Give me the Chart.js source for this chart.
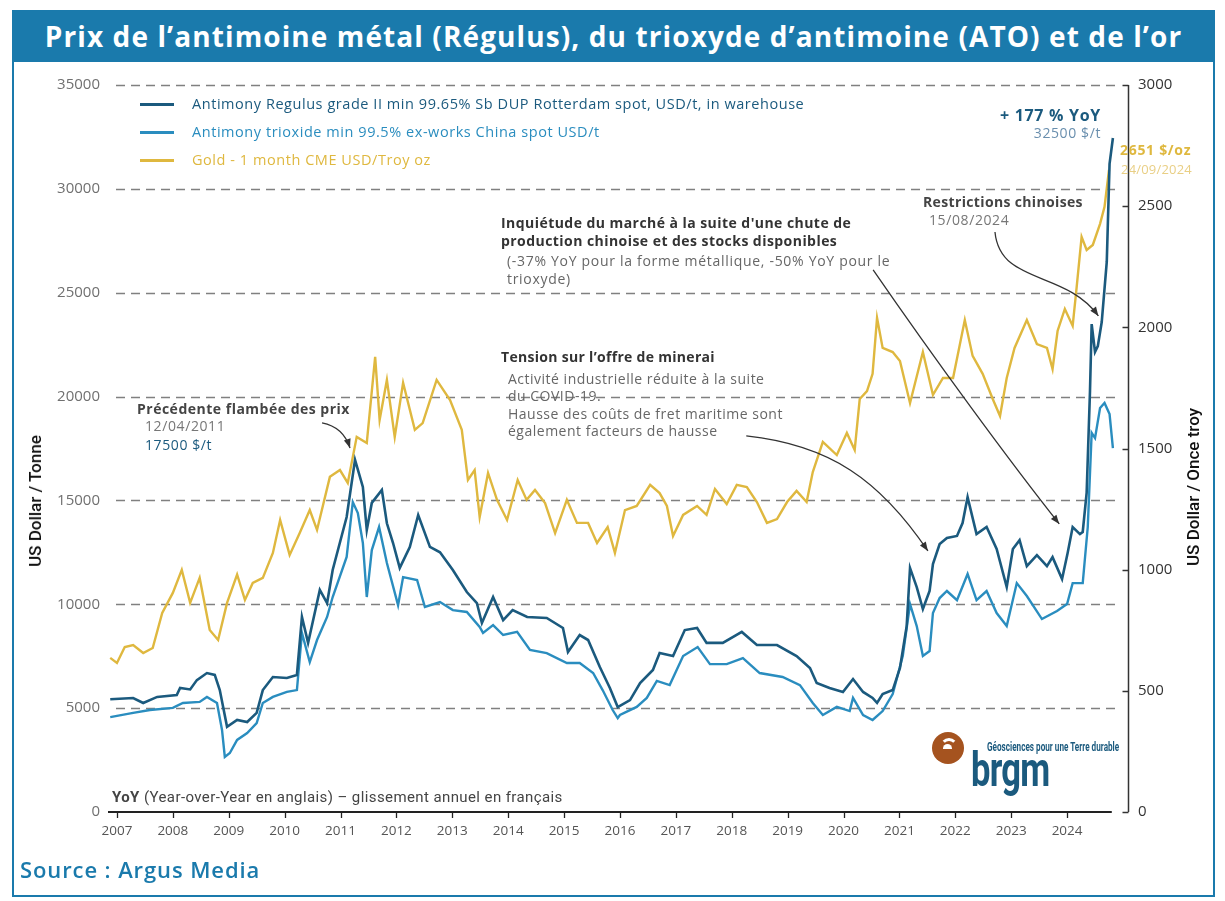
<!DOCTYPE html>
<html><head><meta charset="utf-8">
<script src="https://cdn.jsdelivr.net/npm/chart.js@4.4.1/dist/chart.umd.min.js"></script>
<style>
html,body{margin:0;padding:0;background:#fff;}
body{width:1225px;height:901px;position:relative;overflow:hidden;font-family:"Open Sans",sans-serif;}
#frame{position:absolute;left:12px;top:10px;width:1203px;height:887px;border:2px solid #1a7aac;box-sizing:border-box;}
#titlebar{position:absolute;left:12px;top:10px;width:1203px;height:52px;background:#1a7aac;color:#fff;font-weight:700;font-size:28px;display:flex;align-items:center;justify-content:center;letter-spacing:1.1px;}
#c{position:absolute;left:0;top:0;}
.t{position:absolute;white-space:nowrap;line-height:1;transform:translateY(-50%);letter-spacing:0.6px;}
.r{transform:translate(-100%,-50%);}
.b{font-weight:700;letter-spacing:0.4px;}
.leg{position:absolute;width:34px;height:3px;}
.vt{position:absolute;white-space:nowrap;transform:translate(-50%,-50%) rotate(-90deg);font-family:Roboto,sans-serif;font-weight:500;font-size:17px;color:#111;}
</style></head>
<body>
<div id="frame"></div>
<div id="titlebar">Prix de l’antimoine métal (Régulus), du trioxyde d’antimoine (ATO) et de l’or</div>
<canvas id="c" width="1225" height="901"></canvas>

<div class="leg" style="left:140px;top:103px;background:#1b5a7e"></div>
<div class="leg" style="left:140px;top:131px;background:#2a8dbf"></div>
<div class="leg" style="left:140px;top:159px;background:#dfb83f"></div>
<div class="t" style="left:192px;top:104px;font-size:14.5px;color:#1b5a7e;letter-spacing:0.55px">Antimony Regulus grade II min 99.65% Sb DUP Rotterdam spot, USD/t, in warehouse</div>
<div class="t" style="left:192px;top:132px;font-size:14.5px;color:#2a8dbf;letter-spacing:0.55px">Antimony trioxide min 99.5% ex-works China spot USD/t</div>
<div class="t" style="left:192px;top:160px;font-size:14.5px;color:#dfb83f;letter-spacing:0.55px">Gold - 1 month CME USD/Troy oz</div>

<div class="t r b" style="left:1101px;top:115px;font-size:16px;color:#1b5a7e;letter-spacing:0.7px">+ 177 % YoY</div>
<div class="t r" style="left:1101px;top:133px;font-size:14px;color:#6a8fae">32500 $/t</div>
<div class="t b" style="left:1120px;top:150px;font-size:14px;color:#dfb83f;letter-spacing:0.7px">2651 $/oz</div>
<div class="t" style="left:1121px;top:169px;font-size:13px;color:#e9cf85;letter-spacing:0.2px">24/09/2024</div>

<div class="t b" style="left:923px;top:202px;font-size:14px;color:#444;letter-spacing:0.35px">Restrictions chinoises</div>
<div class="t" style="left:929px;top:220px;font-size:14px;color:#777">15/08/2024</div>

<div class="t b" style="left:501px;top:223px;font-size:14px;color:#333;letter-spacing:0.45px">Inquiétude du marché à la suite d'une chute de</div>
<div class="t b" style="left:501px;top:241px;font-size:14px;color:#333;letter-spacing:0.45px">production chinoise et des stocks disponibles</div>
<div class="t" style="left:507px;top:261px;font-size:14px;color:#666;letter-spacing:0.7px">(-37% YoY pour la forme métallique, -50% YoY pour le</div>
<div class="t" style="left:507px;top:279px;font-size:14px;color:#666;letter-spacing:0.7px">trioxyde)</div>

<div class="t b" style="left:501px;top:357px;font-size:14px;color:#333;letter-spacing:0.3px">Tension sur l’offre de minerai</div>
<div class="t" style="left:508px;top:379px;font-size:14px;color:#666;letter-spacing:0.5px">Activité industrielle réduite à la suite</div>
<div class="t" style="left:508px;top:396px;font-size:14px;color:#666;letter-spacing:0.5px">du COVID-19.</div>
<div class="t" style="left:508px;top:414px;font-size:14px;color:#666;letter-spacing:0.5px">Hausse des coûts de fret maritime sont</div>
<div class="t" style="left:508px;top:431px;font-size:14px;color:#666;letter-spacing:0.5px">également facteurs de hausse</div>

<div class="t b" style="left:137px;top:409px;font-size:14px;color:#444;letter-spacing:0.5px">Précédente flambée des prix</div>
<div class="t" style="left:145px;top:426px;font-size:14px;color:#777">12/04/2011</div>
<div class="t" style="left:145px;top:445px;font-size:14px;color:#1b5a7e">17500 $/t</div>

<div class="t" style="left:112px;top:797px;font-size:15px;color:#444;font-family:Roboto,sans-serif;letter-spacing:0.4px"><b>YoY</b> (Year-over-Year en anglais) – glissement annuel en français</div>

<div class="vt" style="left:35px;top:501px">US Dollar / Tonne</div>
<div class="vt" style="left:1193px;top:487px">US Dollar / Once troy</div>

<div class="t" style="left:20px;top:869px;font-size:22px;color:#1a7aac;font-weight:600;letter-spacing:0.9px">Source : Argus Media</div>

<div style="position:absolute;left:932px;top:732px;width:32px;height:32px;border-radius:50%;background:#a5531f"></div>
<div style="position:absolute;left:940px;top:738px;width:12px;height:12px;border-radius:50%;border:3px solid #fff;border-bottom-color:transparent;border-left-color:transparent;border-right-color:transparent;"></div>
<div style="position:absolute;left:943px;top:744px;width:9px;height:5px;border-radius:5px 5px 0 0;background:#fff"></div>
<div class="t" style="left:987px;top:747px;font-size:12px;color:#1b5a7e;font-family:Roboto,sans-serif;font-weight:700;letter-spacing:0;transform:translateY(-50%) scaleX(0.68);transform-origin:left center">Géosciences pour une Terre durable</div>
<div class="t" style="left:971px;top:770px;font-size:48px;color:#1b5a7e;font-family:Roboto,sans-serif;font-weight:700;transform:translateY(-50%) scaleX(0.72);transform-origin:left center;letter-spacing:-1px">brgm</div>

<script>
// ---- Data ----
const yearTicks = [2007,2008,2009,2010,2011,2012,2013,2014,2015,2016,2017,2018,2019,2020,2021,2022,2023,2024];

const regulusYears = [2006.88,2007.29,2007.47,2007.72,2008.07,2008.13,2008.31,2008.43,2008.61,2008.75,2008.84,2008.97,2009.15,2009.33,2009.50,2009.61,2009.79,2010.04,2010.22,2010.31,2010.42,2010.63,2010.76,2010.86,2011.11,2011.26,2011.40,2011.47,2011.56,2011.74,2011.83,2011.94,2012.06,2012.24,2012.39,2012.60,2012.78,2013.01,2013.26,2013.44,2013.53,2013.73,2013.91,2014.08,2014.34,2014.69,2014.98,2015.07,2015.28,2015.43,2015.64,2015.82,2015.96,2016.18,2016.36,2016.59,2016.71,2016.95,2017.16,2017.38,2017.55,2017.84,2018.18,2018.45,2018.81,2019.16,2019.40,2019.52,2019.75,2019.99,2020.17,2020.35,2020.52,2020.60,2020.70,2020.88,2021.01,2021.13,2021.19,2021.31,2021.42,2021.54,2021.60,2021.72,2021.85,2022.03,2022.13,2022.22,2022.38,2022.56,2022.74,2022.92,2023.03,2023.15,2023.28,2023.46,2023.64,2023.74,2023.91,2024.01,2024.10,2024.23,2024.28,2024.35,2024.41,2024.44,2024.50,2024.55,2024.62,2024.71,2024.76,2024.82];
const regulusPrices = [5430,5490,5250,5540,5630,5970,5900,6350,6690,6600,5870,4100,4430,4330,4770,5870,6500,6450,6600,9390,8140,10690,10060,11650,14200,16950,15650,13580,14880,15500,13900,12950,11750,12760,14300,12760,12500,11650,10590,10060,9100,10350,9240,9720,9390,9340,8860,7700,8520,8280,6980,5970,5050,5390,6210,6840,7650,7510,8760,8860,8140,8140,8670,8040,8040,7510,6930,6210,5970,5780,6400,5780,5490,5250,5680,5870,6930,8950,11750,10830,9770,10640,11940,12900,13190,13290,13910,15160,13380,13720,12660,10830,12660,13090,11840,12370,11840,12270,11220,12470,13720,13380,13480,15360,20270,23490,22150,22430,23590,26480,31200,32450];

const trioxideYears = [2006.88,2007.29,2007.59,2008.00,2008.18,2008.48,2008.61,2008.79,2008.88,2008.93,2009.02,2009.15,2009.33,2009.50,2009.61,2009.79,2010.04,2010.22,2010.31,2010.45,2010.58,2010.76,2010.86,2011.11,2011.22,2011.31,2011.40,2011.47,2011.56,2011.69,2011.83,2012.03,2012.12,2012.37,2012.51,2012.78,2013.01,2013.26,2013.49,2013.55,2013.73,2013.91,2014.16,2014.39,2014.69,2015.05,2015.28,2015.52,2015.69,2015.87,2015.96,2016.00,2016.30,2016.48,2016.66,2016.89,2017.13,2017.39,2017.61,2017.91,2018.20,2018.50,2018.91,2019.22,2019.45,2019.63,2019.88,2020.11,2020.17,2020.35,2020.52,2020.70,2020.88,2021.06,2021.19,2021.31,2021.42,2021.54,2021.60,2021.72,2021.85,2022.03,2022.22,2022.38,2022.56,2022.74,2022.92,2023.10,2023.28,2023.55,2023.82,2024.00,2024.10,2024.28,2024.37,2024.44,2024.50,2024.59,2024.67,2024.76,2024.82];
const trioxidePrices = [4570,4770,4910,5010,5250,5300,5540,5250,3950,2650,2840,3470,3800,4280,5250,5540,5780,5870,8620,7220,8280,9390,10350,12280,14920,14390,12950,10350,12610,13720,11990,9960,11310,11170,9870,10110,9720,9630,8910,8620,9000,8520,8670,7800,7650,7170,7170,6690,5870,4910,4520,4670,5060,5490,6310,6110,7510,7940,7120,7120,7410,6690,6500,6110,5250,4670,5060,4860,5490,4670,4430,4860,5680,7510,10010,8950,7510,7750,9580,10300,10640,10200,11460,10200,10640,9580,8950,11020,10400,9290,9680,10010,11020,11020,13720,18250,18000,19450,19690,19160,17520];

const goldYears = [2006.88,2007.00,2007.14,2007.29,2007.47,2007.64,2007.81,2008.00,2008.16,2008.31,2008.48,2008.66,2008.81,2008.97,2009.15,2009.29,2009.43,2009.61,2009.79,2009.92,2010.09,2010.27,2010.45,2010.58,2010.81,2010.99,2011.13,2011.29,2011.47,2011.62,2011.70,2011.83,2011.97,2012.12,2012.33,2012.47,2012.72,2012.96,2013.17,2013.28,2013.40,2013.49,2013.64,2013.80,2013.98,2014.17,2014.33,2014.48,2014.66,2014.84,2015.05,2015.23,2015.43,2015.59,2015.78,2015.91,2016.09,2016.30,2016.54,2016.71,2016.84,2016.95,2017.13,2017.38,2017.55,2017.70,2017.91,2018.09,2018.27,2018.45,2018.63,2018.81,2018.99,2019.16,2019.34,2019.45,2019.63,2019.88,2020.06,2020.20,2020.29,2020.42,2020.52,2020.60,2020.70,2020.88,2021.01,2021.19,2021.42,2021.60,2021.78,2021.96,2022.17,2022.31,2022.49,2022.67,2022.80,2022.92,2023.06,2023.28,2023.46,2023.64,2023.74,2023.83,2023.96,2024.10,2024.17,2024.26,2024.35,2024.46,2024.59,2024.67,2024.75];
const goldPrices = [636,615,681,689,656,677,821,904,999,863,966,751,710,863,980,875,945,966,1069,1205,1061,1151,1246,1164,1383,1411,1358,1548,1523,1878,1618,1783,1548,1771,1577,1605,1783,1700,1577,1370,1411,1217,1399,1288,1205,1370,1288,1329,1275,1151,1288,1193,1193,1110,1176,1069,1246,1263,1350,1316,1263,1139,1226,1263,1226,1333,1271,1350,1341,1279,1193,1209,1279,1325,1279,1403,1527,1473,1564,1494,1704,1737,1808,2039,1915,1898,1861,1688,1898,1721,1791,1791,2030,1882,1808,1704,1634,1791,1915,2030,1931,1915,1828,1985,2076,2006,2163,2373,2319,2340,2427,2497,2650];

// ---- Styles ----
const C_REG = '#1b5a7e', C_TRI = '#2a8dbf', C_GOLD = '#dfb83f';
const X_MIN = 2006.84, X_MAX = 2025.09, X_AXIS_END = 2024.80;

// Arrows: points in (year, left-axis value) -> mapped through scales
const arrows = [
  [[2010.67,18730],[2010.95,18585],[2011.10,18104],[2011.17,17526]],
  [[2018.26,18104],[2019.76,17670],[2020.65,15985],[2021.51,12567]],
  [[2020.53,26096],[2021.64,21763],[2022.98,16852],[2023.86,13867]],
  [[2022.71,27926],[2022.80,25374],[2023.97,26096],[2024.56,23881]]
];

function pts(xs, ys){ return xs.map((v,i)=>({x:v, y:ys[i]})); }

const deco = {
  id:'deco',
  beforeDatasetsDraw(chart){
    const {ctx, chartArea:a, scales:{x,y,y2}} = chart;
    ctx.save();
    ctx.strokeStyle = '#808080'; ctx.lineWidth = 1.3; ctx.setLineDash([9,6]);
    y.ticks.forEach(t=>{
      if (t.value <= 0) return;
      const py = Math.round(y.getPixelForValue(t.value)) + 0.5;
      ctx.beginPath(); ctx.moveTo(a.left+8, py); ctx.lineTo(a.right-8, py); ctx.stroke();
    });
    ctx.setLineDash([]);
    const py0 = y.getPixelForValue(0);
    ctx.strokeStyle = '#222'; ctx.lineWidth = 2;
    ctx.beginPath(); ctx.moveTo(a.left, py0); ctx.lineTo(x.getPixelForValue(X_AXIS_END), py0); ctx.stroke();
    ctx.lineWidth = 1.3;
    x.ticks.forEach(t=>{
      const px = Math.round(x.getPixelForValue(t.value)) + 0.5;
      ctx.beginPath(); ctx.moveTo(px, py0); ctx.lineTo(px, py0+6); ctx.stroke();
    });
    ctx.strokeStyle = '#333'; ctx.lineWidth = 1.5;
    const rx = a.right + 0.5;
    ctx.beginPath(); ctx.moveTo(rx, y2.getPixelForValue(3000)); ctx.lineTo(rx, y2.getPixelForValue(0)); ctx.stroke();
    y2.ticks.forEach(t=>{
      const py = Math.round(y2.getPixelForValue(t.value)) + 0.5;
      ctx.beginPath(); ctx.moveTo(rx-6, py); ctx.lineTo(rx, py); ctx.stroke();
    });
    ctx.restore();
  },
  afterDatasetsDraw(chart){
    const {ctx, scales:{x,y}} = chart;
    ctx.save();
    ctx.strokeStyle = '#333'; ctx.fillStyle = '#333'; ctx.lineWidth = 1.3;
    arrows.forEach(p=>{
      const q = p.map(([vx,vy])=>[x.getPixelForValue(vx), y.getPixelForValue(vy)]);
      ctx.beginPath(); ctx.moveTo(q[0][0], q[0][1]);
      ctx.bezierCurveTo(q[1][0],q[1][1],q[2][0],q[2][1],q[3][0],q[3][1]); ctx.stroke();
      const ang = Math.atan2(q[3][1]-q[2][1], q[3][0]-q[2][0]);
      const L = 9, W = 3.5;
      ctx.beginPath();
      ctx.moveTo(q[3][0], q[3][1]);
      ctx.lineTo(q[3][0]-L*Math.cos(ang)+W*Math.sin(ang), q[3][1]-L*Math.sin(ang)-W*Math.cos(ang));
      ctx.lineTo(q[3][0]-L*Math.cos(ang)-W*Math.sin(ang), q[3][1]-L*Math.sin(ang)+W*Math.cos(ang));
      ctx.closePath(); ctx.fill();
    });
    ctx.restore();
  }
};

new Chart(document.getElementById('c'), {
  type:'line',
  data:{ datasets:[
    {label:'Antimony Regulus', data:pts(regulusYears, regulusPrices), yAxisID:'y', borderColor:C_REG, borderWidth:2.6, pointRadius:0, tension:0},
    {label:'Antimony trioxide', data:pts(trioxideYears, trioxidePrices), yAxisID:'y', borderColor:C_TRI, borderWidth:2.4, pointRadius:0, tension:0},
    {label:'Gold', data:pts(goldYears, goldPrices), yAxisID:'y2', borderColor:C_GOLD, borderWidth:2.4, pointRadius:0, tension:0}
  ]},
  options:{
    responsive:false, animation:false, events:[],
    layout:{padding:{top:85, left:0, right:0, bottom:0}},
    plugins:{legend:{display:false}, tooltip:{enabled:false}, title:{display:false}},
    scales:{
      x:{type:'linear', min:X_MIN, max:X_MAX,
         afterBuildTicks:s=>{ s.ticks = yearTicks.map(v=>({value:v})); },
         afterFit:s=>{ s.height = 89; },
         grid:{display:false, drawTicks:false}, border:{display:false},
         ticks:{padding:11, color:'#555', autoSkip:false, maxRotation:0, font:{family:'Open Sans', size:13.5}, callback:v=>String(v)}},
      y:{position:'left', min:0, max:35000,
         afterFit:s=>{ s.width = 108; },
         grid:{display:false, drawTicks:false}, border:{display:false},
         ticks:{stepSize:5000, padding:8, color:'#707070', font:{family:'Open Sans', size:15}, callback:v=>String(v)}},
      y2:{position:'right', min:0, max:3000,
         afterFit:s=>{ s.width = 97; },
         grid:{display:false, drawTicks:false}, border:{display:false},
         ticks:{stepSize:500, padding:10, color:'#333', font:{family:'Open Sans', size:15}, callback:v=>String(v)}}
    }
  },
  plugins:[deco]
});
</script>
</body></html>
